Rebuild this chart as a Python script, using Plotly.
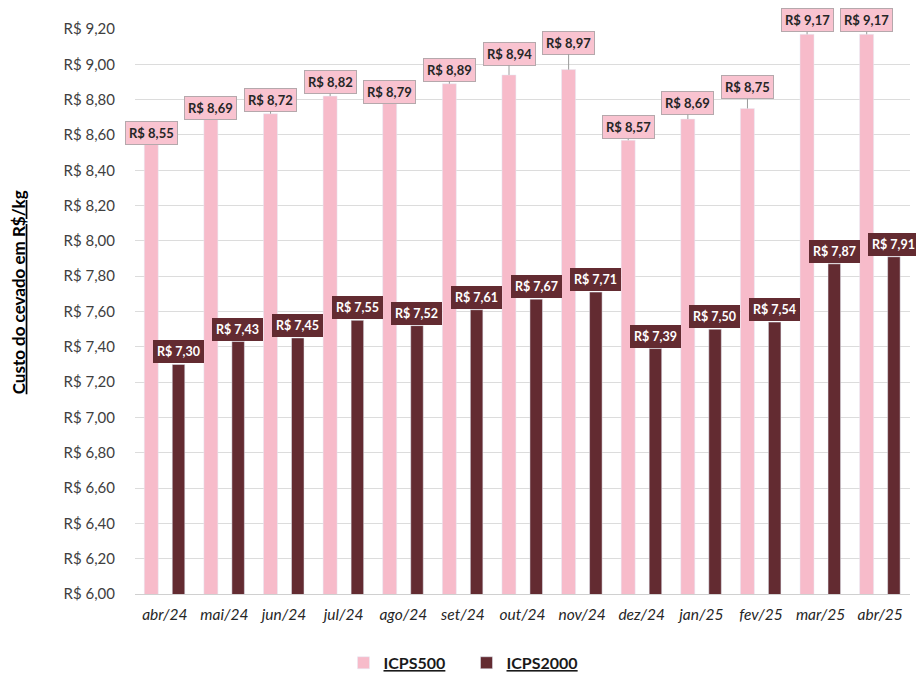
import plotly.graph_objects as go

months = ["abr/24", "mai/24", "jun/24", "jul/24", "ago/24", "set/24", "out/24",
          "nov/24", "dez/24", "jan/25", "fev/25", "mar/25", "abr/25"]
icps500 = [8.55, 8.69, 8.72, 8.82, 8.79, 8.89, 8.94, 8.97, 8.57, 8.69, 8.75, 9.17, 9.17]
icps2000 = [7.30, 7.43, 7.45, 7.55, 7.52, 7.61, 7.67, 7.71, 7.39, 7.50, 7.54, 7.87, 7.91]
y_ticks = [6.0, 6.2, 6.4, 6.6, 6.8, 7.0, 7.2, 7.4, 7.6, 7.8, 8.0, 8.2, 8.4, 8.6, 8.8, 9.0, 9.2]

PINK = "#F7BBCA"
DARK = "#632B31"
FONT = "Lato"

# label lift (pixels from bar top to label centre) - styling only
pink_lift = [-11, -11, -14, -14, -9, -14, -21, -27, -13, -16, -21, -14, -14]


def brl(v):
    return "R$ " + f"{v:.2f}".replace(".", ",")


fig = go.Figure()
fig.add_trace(go.Bar(x=months, y=icps500, name="<b><u>ICPS500</u></b>",
                     marker_color=PINK, width=0.235, offset=-0.345))
fig.add_trace(go.Bar(x=months, y=icps2000, name="<b><u>ICPS2000</u></b>",
                     marker_color=DARK, width=0.21, offset=0.125))

ann = []
for i, (m, v) in enumerate(zip(months, icps500)):
    ann.append(dict(x=m, y=v, xref="x", yref="y", xshift=-13.5,
                    text="<b>" + brl(v) + "</b>", showarrow=True, arrowhead=0,
                    arrowwidth=1, arrowcolor="#9a9a9a", ax=0, ay=pink_lift[i],
                    font=dict(family=FONT, size=13, color="#262626"),
                    bgcolor="#F9C3D0", bordercolor="#B5A8AC", borderwidth=1,
                    borderpad=3))
for m, v in zip(months, icps2000):
    ann.append(dict(x=m, y=v, xref="x", yref="y", xshift=13.5, yshift=1,
                    text="<b>" + brl(v) + "</b>", showarrow=False,
                    yanchor="bottom",
                    font=dict(family=FONT, size=12.5, color="white"),
                    bgcolor=DARK, bordercolor=DARK, borderwidth=1, borderpad=3))
ann.append(dict(text="<b><u>Custo do cevado em R$/kg</u></b>", xref="paper", yref="paper",
                x=-0.151, y=0.534, textangle=-90, showarrow=False,
                xanchor="center", yanchor="middle",
                font=dict(family=FONT, size=17, color="#000000")))

fig.update_layout(
    width=916, height=675,
    margin=dict(l=135, r=6, t=29, b=81),
    paper_bgcolor="white", plot_bgcolor="white",
    separators=",.",
    font=dict(family=FONT, size=14, color="#404040"),
    showlegend=True,
    legend=dict(orientation="h", xref="container", yref="container",
                x=0.375, xanchor="left", y=0.018, yanchor="middle",
                font=dict(family=FONT, size=16, color="#1a1a1a"),
                itemwidth=30, entrywidth=78, entrywidthmode="pixels",
                traceorder="normal"),
    annotations=ann,
)
fig.update_xaxes(
    type="category", range=[-0.5, 12.5], automargin=False,
    tickmode="array", tickvals=months, ticktext=["<i>" + m + "</i>" for m in months],
    tickfont=dict(family=FONT, size=15.5, color="#262626"),
    showgrid=False, showline=True, linecolor="#d0d0d0", linewidth=1, ticks="",
    ticklabelstandoff=6,
)
fig.update_yaxes(
    range=[6.0, 9.2], tickmode="array", tickvals=y_ticks, automargin=False,
    ticktext=[brl(t) for t in y_ticks],
    tickfont=dict(family=FONT, size=15, color="#404040"),
    showgrid=True, gridcolor="#dcdcdc", gridwidth=1, zeroline=False,
    ticks="", ticklabelstandoff=19,
)

fig.write_html("out.html", config={"displayModeBar": False},
               post_script="document.body.style.margin='0';document.body.style.overflow='hidden';")
